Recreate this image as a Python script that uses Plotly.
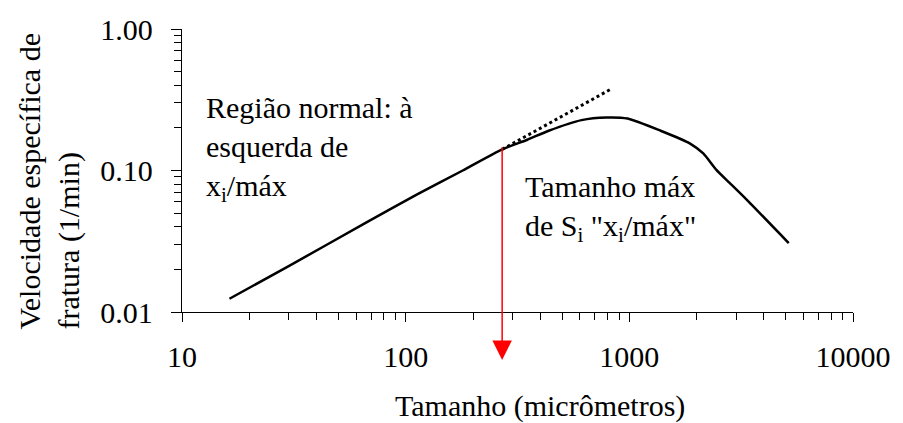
import numpy as np
import plotly.graph_objects as go

# ---- data ----
size_um = [16.3, 30, 66.5, 112, 180, 270, 350, 436, 611, 790, 982, 1380, 1870, 2140, 2450, 2800, 3320, 5160]
rate = [0.0124, 0.0211, 0.0428, 0.0675, 0.100, 0.141, 0.165, 0.191, 0.227, 0.237, 0.233, 0.191, 0.155, 0.132, 0.101, 0.082, 0.063, 0.0307]
tangent_x = [270, 830]
tangent_y = [0.141, 0.377]
xi_max = 270
x_tickvals = [10, 100, 1000, 10000]
x_ticktext = ["10", "100", "1000", "10000"]
y_tickvals = [0.01, 0.1, 1.0]
y_ticktext = ["0.01", "0.10", "1.00"]

FONT = "Times New Roman"
FS = 30

x_minor = [d * 10 ** k for k in range(1, 4) for d in range(2, 10)]
y_minor = [d * 10.0 ** k for k in range(-2, 0) for d in range(2, 10)]

fig = go.Figure()
fig.add_trace(go.Scatter(x=size_um, y=rate, mode="lines",
                         line=dict(color="black", width=2.5, shape="spline", smoothing=0.6)))
fig.add_trace(go.Scatter(x=tangent_x, y=tangent_y, mode="lines",
                         line=dict(color="black", width=3, dash="dot")))

L, R, T, B = 182, 41, 23, 111
W, H = 903, 423
pw = W - L - R
ph = H - T - B

def px(xp):
    return (xp - L) / pw

def py(yp):
    return (H - B - yp) / ph

tf = dict(family=FONT, size=FS, color="black")

# red arrow from the curve down below the axis
fig.add_annotation(x=np.log10(xi_max), xref="x", y=py(361), yref="paper",
                   ax=0, ay=-214, axref="pixel", ayref="pixel",
                   text="", showarrow=True, arrowhead=2, arrowsize=2.6,
                   arrowwidth=1.5, arrowcolor="red")

fig.add_annotation(x=px(204), y=py(146), xref="paper", yref="paper",
                   xanchor="left", yanchor="middle", align="left", showarrow=False,
                   text="Região normal: à<br>esquerda de<br>x<sub>i</sub>/máx", font=tf)
fig.add_annotation(x=px(528), y=py(206), xref="paper", yref="paper",
                   xanchor="left", yanchor="middle", align="left", showarrow=False,
                   text="Tamanho máx<br>de S<sub>i</sub> \"x<sub>i</sub>/máx\"", font=tf)
fig.add_annotation(x=px(545), y=py(408), xref="paper", yref="paper",
                   xanchor="center", yanchor="middle", showarrow=False,
                   text="Tamanho (micrômetros)", font=tf)
fig.add_annotation(x=px(48), y=py(178), xref="paper", yref="paper",
                   xanchor="center", yanchor="middle", align="left",
                   showarrow=False, textangle=-90,
                   text="Velocidade específica de<br>fratura (1/min)", font=tf)

fig.update_xaxes(type="log", range=[1, 4], showgrid=False, zeroline=False,
                 showline=True, linecolor="black", linewidth=1.3,
                 tickmode="array", tickvals=x_tickvals, ticktext=x_ticktext,
                 ticks="outside", ticklen=9, tickwidth=1.3, tickcolor="black",
                 ticklabelstandoff=9,
                 minor=dict(tickvals=x_minor, ticks="outside", ticklen=7, tickwidth=1, tickcolor="black"),
                 tickfont=tf)
fig.update_yaxes(type="log", range=[-2, 0], showgrid=False, zeroline=False,
                 showline=True, linecolor="black", linewidth=1.3,
                 tickmode="array", tickvals=y_tickvals, ticktext=y_ticktext,
                 ticks="outside", ticklen=10, tickwidth=1.3, tickcolor="black",
                 ticklabelstandoff=12,
                 minor=dict(tickvals=y_minor, ticks="outside", ticklen=7, tickwidth=1, tickcolor="black"),
                 tickfont=tf)

fig.update_layout(width=W, height=H, margin=dict(l=L, r=R, t=T, b=B),
                  showlegend=False, paper_bgcolor="white", plot_bgcolor="white")

serif_css = ("var s=document.createElement('style');"
             "s.textContent='svg text{font-family:\"Times New Roman\",\"Liberation Serif\",serif !important;}';"
             "document.head.appendChild(s);")
fig.write_html("out.html", post_script=serif_css)
